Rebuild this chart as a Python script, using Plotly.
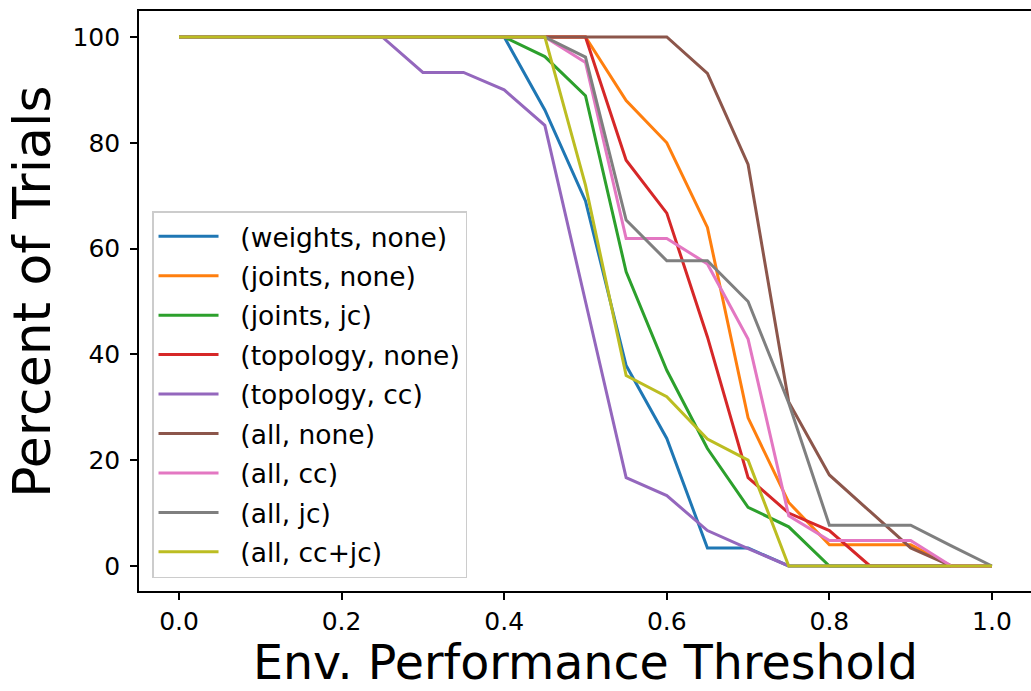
import plotly.graph_objects as go

thresholds = [0.0, 0.05, 0.1, 0.15, 0.2, 0.25, 0.3, 0.35, 0.4, 0.45, 0.5,
              0.55, 0.6, 0.65, 0.7, 0.75, 0.8, 0.85, 0.9, 0.95, 1.0]

weights_none = [100, 100, 100, 100, 100, 100, 100, 100, 100, 86.2, 69.0,
                37.9, 24.1, 3.4, 3.4, 0, 0, 0, 0, 0, 0]
joints_none = [100, 100, 100, 100, 100, 100, 100, 100, 100, 100, 100,
               88, 80, 64, 28, 12, 4, 4, 4, 0, 0]
joints_jc = [100, 100, 100, 100, 100, 100, 100, 100, 100, 96.3, 88.9,
             55.6, 37.0, 22.2, 11.1, 7.4, 0, 0, 0, 0, 0]
topology_none = [100, 100, 100, 100, 100, 100, 100, 100, 100, 100, 100,
                 76.7, 66.7, 43.3, 16.7, 10.0, 6.7, 0, 0, 0, 0]
topology_cc = [100, 100, 100, 100, 100, 100, 93.3, 93.3, 90, 83.3, 50,
               16.7, 13.3, 6.7, 3.3, 0, 0, 0, 0, 0, 0]
all_none = [100, 100, 100, 100, 100, 100, 100, 100, 100, 100, 100,
            100, 100, 93.1, 75.9, 31.0, 17.2, 10.3, 3.4, 0, 0]
all_cc = [100, 100, 100, 100, 100, 100, 100, 100, 100, 100, 95.2,
          61.9, 61.9, 57.1, 42.9, 9.5, 4.8, 4.8, 4.8, 0, 0]
all_jc = [100, 100, 100, 100, 100, 100, 100, 100, 100, 100, 96.2,
          65.4, 57.7, 57.7, 50.0, 30.8, 7.7, 7.7, 7.7, 3.8, 0]
all_ccjc = [100, 100, 100, 100, 100, 100, 100, 100, 100, 100, 72,
            36, 32, 24, 20, 0, 0, 0, 0, 0, 0]

labels = ["(weights, none)", "(joints, none)", "(joints, jc)", "(topology, none)",
          "(topology, cc)", "(all, none)", "(all, cc)", "(all, jc)", "(all, cc+jc)"]
series = [weights_none, joints_none, joints_jc, topology_none, topology_cc,
          all_none, all_cc, all_jc, all_ccjc]
colors = ["#1f77b4", "#ff7f0e", "#2ca02c", "#d62728", "#9467bd",
          "#8c564b", "#e377c2", "#7f7f7f", "#bcbd22"]

x_ticks = [0.0, 0.2, 0.4, 0.6, 0.8, 1.0]
y_ticks = [0, 20, 40, 60, 80, 100]

FONT = "DejaVu Sans"
PAD = "\u00a0\u00a0"

fig = go.Figure()
for i, (lab, ys, col) in enumerate(zip(labels, series, colors)):
    fig.add_trace(go.Scatter(x=thresholds, y=ys, mode="lines", name=PAD + lab,
                             legendgroup="g%d" % i,
                             line=dict(color=col, width=3)))

fig.update_layout(
    width=1031, height=691,
    margin=dict(l=139, r=0, t=11, b=100),
    plot_bgcolor="white", paper_bgcolor="white",
    font=dict(family=FONT, color="black"),
    showlegend=True,
    legend=dict(x=0.0146, y=0.0224, xanchor="left", yanchor="bottom",
                bgcolor="rgba(255,255,255,0.8)", bordercolor="#cccccc",
                borderwidth=1.5, font=dict(size=26.5, family=FONT),
                tracegroupgap=2, traceorder="grouped", itemwidth=60),
    xaxis=dict(range=[-0.0492, 1.048], tickvals=x_ticks, tickformat=".1f",
               showgrid=False, zeroline=False, showline=True, linecolor="black",
               linewidth=1.6, mirror=True, ticks="outside", ticklen=7,
               tickwidth=1.6, tickcolor="black", tickfont=dict(size=25)),
    yaxis=dict(range=[-4.73, 104.91], tickvals=y_ticks,
               showgrid=False, zeroline=False, showline=True, linecolor="black",
               linewidth=1.6, mirror=False, ticks="outside", ticklen=7,
               tickwidth=1.6, tickcolor="black", tickfont=dict(size=25),
               ticklabelstandoff=5),
    annotations=[
        dict(text="Env. Performance Threshold", xref="paper", yref="paper",
             x=0.5, y=-0.124, xanchor="center", yanchor="middle",
             showarrow=False, font=dict(size=47.5, family=FONT)),
        dict(text="Percent of Trials", xref="paper", yref="paper",
             x=-0.12, y=0.516, xanchor="center", yanchor="middle",
             textangle=-90, showarrow=False, font=dict(size=52, family=FONT)),
    ],
)

fig.write_html("out.html")
